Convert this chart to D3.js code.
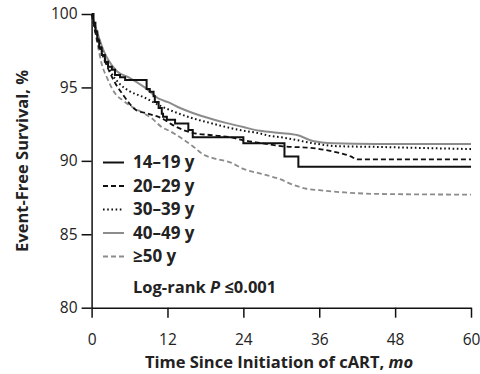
<!DOCTYPE html>
<html>
<head>
<meta charset="utf-8">
<script src="https://cdn.jsdelivr.net/npm/d3@7"></script>
<style>
    body { margin: 0; background: #fff; }
    svg { display: block; font-family: "Open Sans", sans-serif; }
    .axis path, .axis line { stroke: #111; stroke-width: 1.5px; }
    .axis text { font-size: 15.5px; fill: #222; font-family: "Open Sans", sans-serif; }
</style>
</head>
<body>
<svg id="chart" width="480" height="374"></svg>
<script>
(function () {
    'use strict';

    // Kaplan-Meier estimates: [month, % event-free]
    var age1419 = [[0, 100], [0.3, 99.4], [0.6, 98.8], [0.9, 98.2], [1.2, 97.7], [1.6, 97.2], [2.1, 96.75],
        [2.6, 96.4], [3.2, 96.2], [3.7, 95.85], [4.5, 95.7], [5.3, 95.5], [8.7, 94.9], [9.2, 94.7], [9.8, 94.4],
        [10.0, 94.0], [10.6, 93.6], [11.1, 93.2], [11.3, 93.0], [11.9, 92.8], [13.2, 92.55], [15.3, 92.1],
        [16.0, 91.6], [24.0, 91.2], [30.5, 90.3], [32.7, 89.6], [60, 89.6]];
    var age2029 = [[0, 100], [0.5, 99.0], [1, 98.1], [2, 96.9], [2.9, 96.0], [4, 95.1], [4.8, 94.6], [6, 93.9],
        [6.9, 93.5], [9, 93.2], [11.1, 92.9], [13, 92.4], [16, 91.9], [19, 91.75], [22, 91.6], [24, 91.4],
        [27, 91.2], [30, 91.0], [35, 90.87], [38, 90.65], [39.6, 90.5], [41, 90.3], [42, 90.1], [60, 90.1]];
    var age3039 = [[0, 100], [0.5, 99.2], [1, 98.4], [2, 97.1], [3.1, 96.0], [4.3, 95.3], [5.8, 94.8],
        [8.4, 94.3], [11.1, 93.7], [13, 93.35], [16, 92.9], [19, 92.55], [21.3, 92.3], [24, 92.05],
        [26.6, 91.87], [28.2, 91.7], [30, 91.6], [32, 91.45], [35, 91.2], [38.8, 91.0], [45, 90.95],
        [50, 90.9], [55, 90.85], [60, 90.8]];
    var age4049 = [[0, 100], [0.5, 99.3], [1, 98.6], [2, 97.4], [2.6, 96.9], [4, 96.1], [5.8, 95.7],
        [8.4, 95.0], [10.8, 94.2], [12.1, 94.0], [14, 93.6], [16, 93.26], [19, 92.85], [21.4, 92.57],
        [24, 92.3], [26.6, 92.05], [29.8, 91.9], [32.5, 91.76], [35, 91.35], [38.2, 91.2], [45, 91.15],
        [60, 91.15]];
    var age50 = [[0, 100], [0.5, 98.9], [1, 97.8], [1.6, 96.6], [2.5, 95.6], [3.7, 94.6], [5, 94.1],
        [6.3, 93.7], [8, 93.3], [9.5, 92.9], [11.1, 92.3], [12.5, 92.0], [14, 91.6], [16, 91.0],
        [17.6, 90.45], [19.5, 90.15], [21.9, 89.9], [24, 89.45], [27, 89.1], [29.8, 88.75], [32, 88.35],
        [34, 88.1], [36, 88.0], [40, 87.85], [45, 87.75], [60, 87.7]];

    var groupLabels = ['14\u201319 y', '20\u201329 y', '30\u201339 y', '40\u201349 y', '\u226550 y'];
    var xTicks = [0, 12, 24, 36, 48, 60];
    var yTicks = [80, 85, 90, 95, 100];

    var series = [
        {label: groupLabels[0], values: age1419, color: '#111', dash: null, width: 2, step: true},
        {label: groupLabels[1], values: age2029, color: '#111', dash: '5,3', width: 1.8},
        {label: groupLabels[2], values: age3039, color: '#111', dash: '1.6,2.6', width: 2},
        {label: groupLabels[3], values: age4049, color: '#8c8c8c', dash: null, width: 2},
        {label: groupLabels[4], values: age50, color: '#8c8c8c', dash: '5,3', width: 1.8}
    ];

    var svg = d3.select('#chart');
    var x = d3.scaleLinear().domain([0, 60]).range([91.6, 471]);
    var y = d3.scaleLinear().domain([80, 100]).range([307.7, 14]);

    var stepLine = d3.line().x(function (d) { return x(d[0]); }).y(function (d) { return y(d[1]); })
        .curve(d3.curveStepAfter);
    var smoothLine = d3.line().x(function (d) { return x(d[0]); }).y(function (d) { return y(d[1]); })
        .curve(d3.curveMonotoneX);

    // axes
    svg.append('g').attr('class', 'axis')
        .attr('transform', 'translate(0,' + y(80) + ')')
        .call(d3.axisBottom(x).tickValues(xTicks).tickSize(10).tickSizeOuter(0).tickPadding(16));

    svg.append('g').attr('class', 'axis')
        .attr('transform', 'translate(' + x(0) + ',0)')
        .call(d3.axisLeft(y).tickValues(yTicks).tickSize(10).tickSizeOuter(0).tickPadding(4));

    // curves (40-49 and >=50 first so the black ones sit on top)
    var order = [4, 3, 2, 1, 0];
    order.forEach(function (i) {
        var s = series[i];
        svg.append('path')
            .datum(s.values)
            .attr('fill', 'none')
            .attr('stroke', s.color)
            .attr('stroke-width', s.width)
            .attr('stroke-dasharray', s.dash)
            .attr('d', s.step ? stepLine : smoothLine);
    });

    // legend
    var legendBase = [168, 191.5, 215, 238.5, 262];
    var legend = svg.append('g');
    series.forEach(function (s, i) {
        legend.append('line')
            .attr('x1', 103).attr('x2', 124)
            .attr('y1', legendBase[i] - 5.5).attr('y2', legendBase[i] - 5.5)
            .attr('stroke', s.color)
            .attr('stroke-width', s.width)
            .attr('stroke-dasharray', s.dash);
        legend.append('text')
            .attr('x', 133).attr('y', legendBase[i])
            .attr('font-size', 17).attr('font-weight', 'bold').attr('fill', '#222')
            .text(s.label);
    });

    var logrank = legend.append('text')
        .attr('x', 133).attr('y', 293)
        .attr('font-size', 16.5).attr('font-weight', 'bold').attr('fill', '#222');
    logrank.append('tspan').text('Log-rank ');
    logrank.append('tspan').attr('font-style', 'italic').text('P');
    logrank.append('tspan').text(' \u22640.001');

    // axis titles
    var xTitle = svg.append('text')
        .attr('x', 279).attr('y', 368)
        .attr('text-anchor', 'middle')
        .attr('font-size', 16.5).attr('font-weight', 'bold').attr('fill', '#222');
    xTitle.append('tspan').text('Time Since Initiation of cART, ');
    xTitle.append('tspan').attr('font-style', 'italic').text('mo');

    svg.append('text')
        .attr('transform', 'translate(28,' + (y(80) + y(100)) / 2 + ') rotate(-90)')
        .attr('text-anchor', 'middle')
        .attr('font-size', 16.5).attr('font-weight', 'bold').attr('fill', '#222')
        .text('Event-Free Survival, %');
}());
</script>
</body>
</html>
